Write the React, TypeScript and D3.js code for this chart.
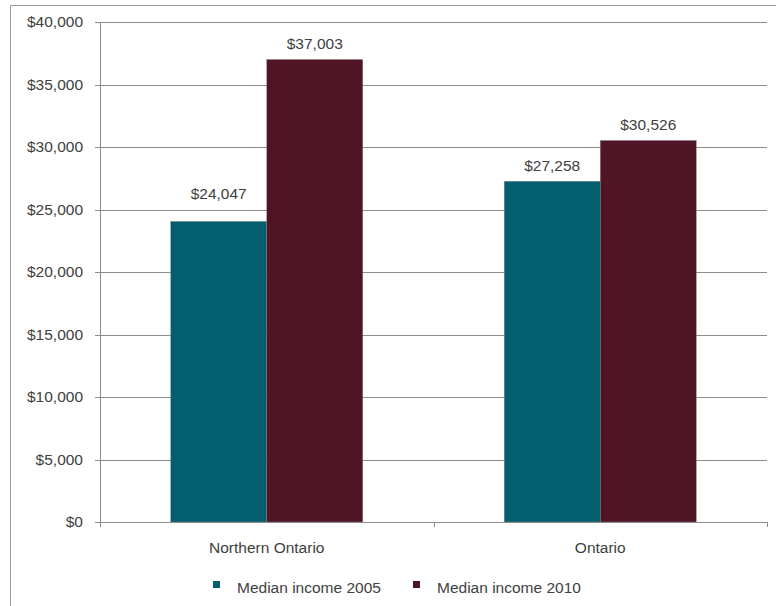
import React from "react";
import * as d3 from "d3";

const categories = ["Northern Ontario", "Ontario"];
const seriesNames = ["Median income 2005", "Median income 2010"];
const income2005 = [24047, 27258];
const income2010 = [37003, 30526];
const yTicks = [0, 5000, 10000, 15000, 20000, 25000, 30000, 35000, 40000];
const colors = ["#035F6E", "#501525"];

const W = 776;
const H = 606;
const left = 100;
const right = 767;
const top = 22;
const bottom = 522;
const FS = 15.5;

export default function App() {
  const x = d3.scaleBand<string>().domain(categories).range([left, right]).paddingInner(0).paddingOuter(0);
  const y = d3.scaleLinear().domain([0, 40000]).range([bottom, top]);
  const fmt = (v: number) => "$" + d3.format(",")(v);
  const barW = x.bandwidth() * 0.288;
  const series = [income2005, income2010];
  const textColor = "#404040";
  const font = "'Liberation Sans', Arial, sans-serif";
  // extra lift for a label that sits on a gridline in the original
  const lift = (i: number, j: number) => (i === 0 && j === 0 ? 12 : 0);

  return (
    <svg width={W} height={H} style={{ position: "absolute", left: 0, top: 0 }} fontFamily={font}>
      <rect x={0} y={0} width={W} height={H} fill="#fff" />
      <line x1={10.5} y1={5.5} x2={W} y2={5.5} stroke="#9a9a9a" strokeWidth={1} />
      <line x1={10.5} y1={5.5} x2={10.5} y2={H} stroke="#9a9a9a" strokeWidth={1} />
      {yTicks.map((t) => (
        <g key={t}>
          {t > 0 && (
            <line x1={left} x2={right} y1={Math.round(y(t)) + 0.5} y2={Math.round(y(t)) + 0.5} stroke="#8c8c8c" strokeWidth={1} />
          )}
          <line x1={left - 5} x2={left} y1={Math.round(y(t)) + 0.5} y2={Math.round(y(t)) + 0.5} stroke="#8c8c8c" strokeWidth={1} />
          <text x={83} y={y(t)} dy="0.35em" textAnchor="end" fontSize={FS} fill={textColor}>
            {fmt(t)}
          </text>
        </g>
      ))}
      {categories.map((c, i) => {
        const cx = (x(c) as number) + x.bandwidth() / 2;
        return (
          <g key={c}>
            {series.map((s, j) => {
              const bx = cx - barW + j * barW;
              return (
                <g key={j}>
                  <rect x={bx} y={y(s[i])} width={barW} height={bottom - y(s[i])} fill={colors[j]} stroke="#8a8a8a" strokeWidth={0.4} />
                  <text x={bx + barW / 2} y={y(s[i]) - 10 - lift(i, j)} textAnchor="middle" fontSize={FS} fill={textColor}>
                    {fmt(s[i])}
                  </text>
                </g>
              );
            })}
            <text x={cx} y={553} textAnchor="middle" fontSize={FS} fill={textColor}>
              {c}
            </text>
          </g>
        );
      })}
      <line x1={left + 0.5} x2={left + 0.5} y1={top} y2={bottom} stroke="#8c8c8c" strokeWidth={1} />
      <line x1={left} x2={right} y1={bottom + 0.5} y2={bottom + 0.5} stroke="#8c8c8c" strokeWidth={1} />
      {[...categories.map((c) => x(c) as number), right].map((v, i) => (
        <line key={i} x1={Math.round(v) + 0.5} x2={Math.round(v) + 0.5} y1={bottom} y2={bottom + 5} stroke="#8c8c8c" strokeWidth={1} />
      ))}
      {seriesNames.map((n, j) => {
        const lx = j === 0 ? 213 : 413;
        return (
          <g key={n}>
            <rect x={lx} y={581} width={7} height={7} fill={colors[j]} />
            <text x={lx + 24} y={593} fontSize={FS} fill={textColor}>
              {n}
            </text>
          </g>
        );
      })}
    </svg>
  );
}
